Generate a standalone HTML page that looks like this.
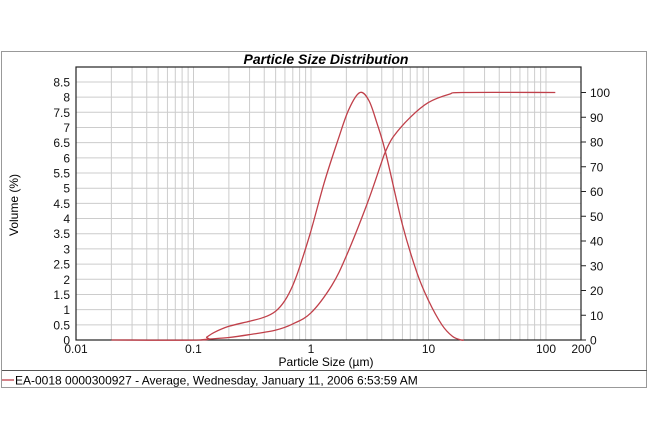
<!DOCTYPE html>
<html><head><meta charset="utf-8"><style>
body{margin:0;background:#fff;}
svg{display:block;font-family:"Liberation Sans",sans-serif;}
</style></head><body>
<svg id="s" width="650" height="438" viewBox="0 0 650 438">
<rect x="1.5" y="51.5" width="645" height="336" fill="#fff" stroke="#999" stroke-width="1"/>
<line x1="2" y1="370.5" x2="647" y2="370.5" stroke="#555"/>
<text x="326" y="64" text-anchor="middle" font-size="14" font-weight="bold" font-style="italic">Particle Size Distribution</text>
<g id="grid" stroke="#ccc" stroke-width="1"></g>
<rect x="76" y="67" width="505" height="273" fill="none" stroke="#222" stroke-width="1.2"/>
<g id="lab" font-size="12" fill="#111"></g>
<text x="326" y="366" text-anchor="middle" font-size="12">Particle Size (µm)</text>
<text transform="translate(18,205) rotate(-90)" text-anchor="middle" font-size="12">Volume (%)</text>
<line x1="2" y1="380" x2="14" y2="380" stroke="#c0404a" stroke-width="1.3"/>
<text x="15" y="384.5" font-size="12">EA-0018 0000300927 - Average, Wednesday, January 11, 2006 6:53:59 AM</text>
<path id="f" fill="none" stroke="#c0404a" stroke-width="1.3"/>
<path id="c" fill="none" stroke="#c0404a" stroke-width="1.3"/>
</svg>
<script>
var X0=76,D=117.5,Y0=340;
function X(v){return X0+(Math.log10(v)+2)*D;}
var g=document.getElementById('grid'),lab=document.getElementById('lab'),ns='http://www.w3.org/2000/svg';
function el(p,t,a,txt){var e=document.createElementNS(ns,t);for(var k in a)e.setAttribute(k,a[k]);if(txt!==undefined)e.textContent=txt;p.appendChild(e);return e;}
for(var d=-2;d<=2;d++)for(var m=1;m<10;m++){var v=m*Math.pow(10,d);if(v<=0.01||v>200)continue;var x=X(v);if(x>580)continue;el(g,'line',{x1:x,x2:x,y1:67,y2:340});}
for(var i=1;i<=17;i++){var y=Y0-i*15.18;el(g,'line',{x1:76,x2:581,y1:y,y2:y});}
for(var i=0;i<=17;i++){var y=Y0-i*15.18;el(lab,'text',{x:70,y:y+4.5,'text-anchor':'end'},String(i/2));}
for(var i=0;i<=10;i++){var y=Y0-i*24.75;el(lab,'line',{x1:581,x2:586,y1:y,y2:y,stroke:'#222'});el(lab,'text',{x:590,y:y+4.5},String(i*10));}
[[0.01,'0.01'],[0.1,'0.1'],[1,'1'],[10,'10'],[100,'100'],[200,'200']].forEach(function(p){el(lab,'text',{x:X(p[0]),y:353,'text-anchor':'middle'},p[1]);});
var F=[[0.02,0],[0.115,0],[0.13,0.1],[0.15,0.25],[0.2,0.45],[0.3,0.62],[0.4,0.75],[0.5,0.95],[0.6,1.3],[0.7,1.8],[0.8,2.4],[1,3.6],[1.3,5.2],[1.7,6.6],[2.1,7.6],[2.6,8.15],[3.1,7.9],[3.6,7.2],[4.3,6.2],[6,3.8],[8,2.2],[10,1.3],[13,0.5],[16,0.12],[19,0],[20,0]];
var C=[[0.115,0],[0.13,0.3],[0.2,1],[0.3,2.2],[0.5,4],[0.7,6.5],[1,11],[1.5,22],[2,34],[3,55],[4,72],[4.3,76],[5,82],[7,90],[10,96],[15,99.3],[20,100],[120,100]];
function path(a,s){var p=a.map(function(q){return [X(q[0]),Y0-q[1]*s];});var d='M'+p[0][0].toFixed(1)+' '+p[0][1].toFixed(1);
for(var i=0;i<p.length-1;i++){var p0=p[Math.max(i-1,0)],p1=p[i],p2=p[i+1],p3=p[Math.min(i+2,p.length-1)];
var c1=[p1[0]+(p2[0]-p0[0])/6,p1[1]+(p2[1]-p0[1])/6],c2=[p2[0]-(p3[0]-p1[0])/6,p2[1]-(p3[1]-p1[1])/6];
d+=' C'+c1[0].toFixed(1)+' '+c1[1].toFixed(1)+' '+c2[0].toFixed(1)+' '+c2[1].toFixed(1)+' '+p2[0].toFixed(1)+' '+p2[1].toFixed(1);}
return d;}
document.getElementById('f').setAttribute('d',path(F,30.36));
document.getElementById('c').setAttribute('d',path(C,2.475));
</script>
</body></html>
